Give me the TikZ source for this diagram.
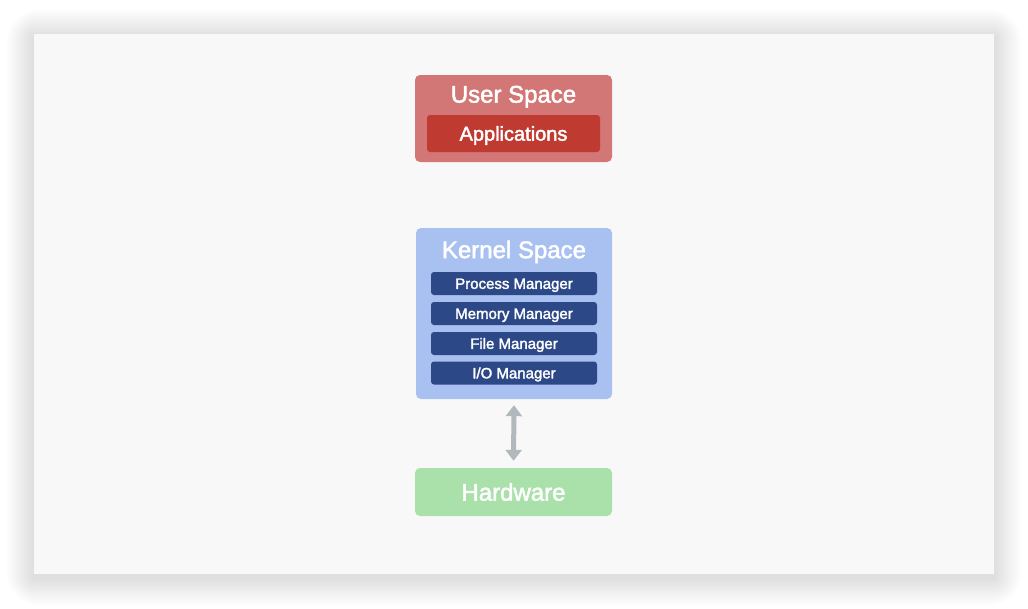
\documentclass[tikz,border=0pt]{standalone}
\usepackage{fontspec}
\setmainfont{Liberation Sans}[FakeBold=2]
\usetikzlibrary{arrows.meta}
\definecolor{slidebg}{HTML}{F8F8F8}
\definecolor{userout}{HTML}{D27676}
\definecolor{userin}{HTML}{BF3A31}
\definecolor{kernout}{HTML}{A9C1F1}
\definecolor{kernin}{HTML}{2C4887}
\definecolor{hwbox}{HTML}{AAE1AA}
\definecolor{arrowgray}{HTML}{B1B9BD}
\tikzset{
  box/.style={draw=none, rounded corners=5pt, inner sep=0pt},
  inbox/.style={draw=none, rounded corners=3pt, inner sep=0pt, text=white, text depth=0pt},
  title/.style={text=white, inner sep=0pt, font=\fontsize{24}{28}\selectfont, text height=17.2pt, text depth=0pt},
  mgr/.style={inbox, fill=kernin, minimum width=166pt, minimum height=23pt, font=\fontsize{15}{18}\selectfont, text height=10.7pt},
}
\begin{document}
\begin{tikzpicture}[x=1pt, y=-1pt]
\useasboundingbox (0,0) rectangle (1028,608);
% shadow
\foreach \i in {1,...,16} {
  \fill[black, opacity=0.007, rounded corners=2*\i pt] (34-1.7*\i,37-1.7*\i) rectangle (994+1.7*\i,578+1.7*\i);
}
\fill[slidebg] (34,34) rectangle (994,574);
% user space
\node[box, fill=userout, minimum width=197pt, minimum height=87pt] (user) at (513.5,118.5) {};
\node[title] (usertitle) at (513.5,94) {User Space};
\node[inbox, fill=userin, minimum width=173pt, minimum height=37pt, font=\fontsize{20}{24}\selectfont, text height=14.3pt] (apps) at (513.5,133.5) {Applications};
% kernel space
\node[box, fill=kernout, minimum width=196pt, minimum height=171pt] (kernel) at (514,313.5) {};
\node[title] (kerneltitle) at (514,249.5) {Kernel Space};
\node[mgr] (pm) at (514,283.5) {Process Manager};
\node[mgr] (mm) at (514,313.5) {Memory Manager};
\node[mgr] (fm) at (514,343.5) {File Manager};
\node[mgr] (io) at (514,373) {I/O Manager};
% hardware
\node[box, fill=hwbox, minimum width=197pt, minimum height=48pt, text=white, font=\fontsize{24}{28}\selectfont, text height=17.2pt, text depth=0pt] (hw) at (513.5,492) {Hardware};
% arrow
\draw[arrowgray, line width=5pt, {Triangle[width=16pt,length=11pt]}-{Triangle[width=16pt,length=11pt]}, shorten <=6pt, shorten >=7pt] (kernel.south) -- (hw.north);
\end{tikzpicture}
\end{document}
